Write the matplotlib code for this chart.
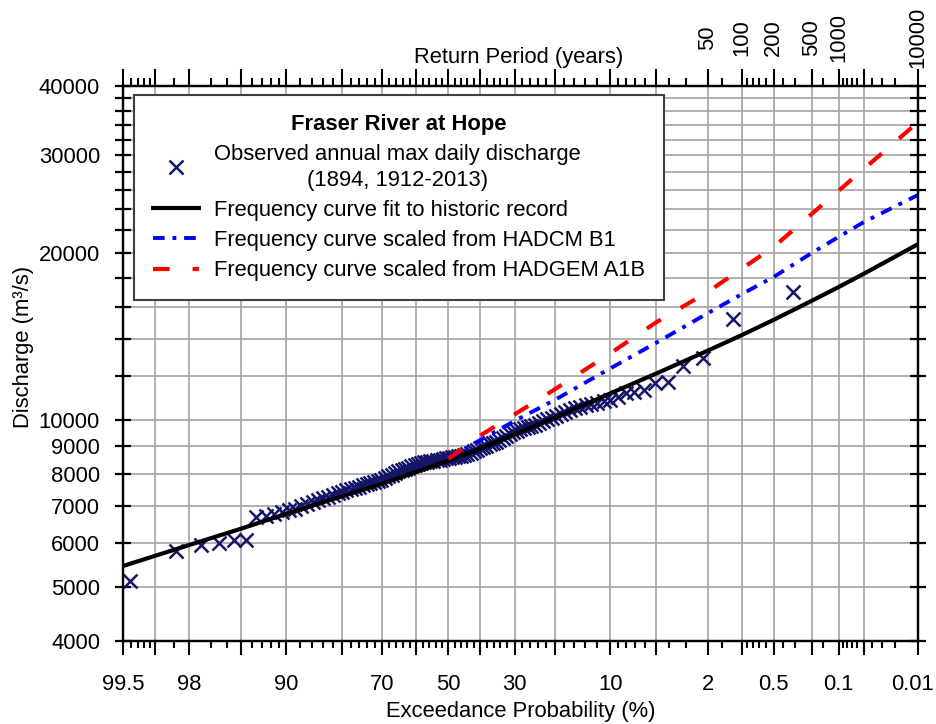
from statistics import NormalDist

import matplotlib
matplotlib.use("Agg")
import matplotlib.pyplot as plt
import numpy as np
from matplotlib.ticker import FixedLocator, FixedFormatter, NullFormatter
from matplotlib.transforms import ScaledTranslation

plt.rcParams['font.family'] = ['Liberation Sans', 'DejaVu Sans']
FS = 15.8

# observed annual max daily discharge: exceedance probability (%) and discharge (m3/s)
obs_p = [0.32, 1.21, 2.18, 3.15, 4.13, 5.10, 6.07, 7.04, 8.02, 8.99, 9.96,
         10.93, 11.91, 12.88, 13.85, 14.82, 15.79, 16.77, 17.74, 18.71, 19.68,
         20.66, 21.63, 22.60, 23.57, 24.55, 25.52, 26.49, 27.46, 28.44, 29.41,
         30.38, 31.35, 32.32, 33.30, 34.27, 35.24, 36.21, 37.19, 38.16, 39.13,
         40.10, 41.08, 42.05, 43.02, 43.99, 44.97, 45.94, 46.91, 47.88, 48.85,
         49.83, 50.80, 51.77, 52.74, 53.72, 54.69, 55.66, 56.63, 57.61, 58.58,
         59.55, 60.52, 61.50, 62.47, 63.44, 64.41, 65.38, 66.36, 67.33, 68.30,
         69.27, 70.25, 71.22, 72.19, 73.16, 74.14, 75.11, 76.08, 77.05, 78.03,
         79.00, 79.97, 80.94, 81.91, 82.89, 83.86, 84.83, 85.80, 86.78, 87.75,
         88.72, 89.69, 90.67, 91.64, 92.61, 93.58, 94.55, 95.53, 96.50, 97.47,
         98.44, 99.42]
obs_q = [17040, 15210, 12930, 12520, 11730, 11650, 11330, 11250, 11200, 11020, 10870,
         10810, 10740, 10680, 10640, 10580, 10500, 10430, 10350, 10270, 10190,
         10110, 10030, 9950, 9870, 9800, 9760, 9720, 9670, 9620, 9570,
         9520, 9440, 9360, 9280, 9200, 9150, 9100, 9050, 9000, 8950,
         8910, 8850, 8800, 8740, 8690, 8650, 8630, 8610, 8590, 8570,
         8550, 8530, 8510, 8490, 8470, 8450, 8440, 8420, 8400, 8380,
         8340, 8300, 8260, 8210, 8170, 8130, 8090, 8040, 7980, 7920,
         7860, 7800, 7770, 7740, 7710, 7670, 7630, 7590, 7550, 7510,
         7470, 7430, 7380, 7330, 7280, 7230, 7170, 7110, 7050, 6990,
         6930, 6880, 6830, 6780, 6730, 6690, 6080, 6070, 6000, 5950,
         5820, 5130]

# frequency curves
fit_p = [99.5, 98, 95, 90, 80, 70, 50, 40, 30, 20, 10, 5, 2, 1, 0.5, 0.2, 0.1,
         0.05, 0.01]
fit_q = [5460, 5955, 6370, 6780, 7290, 7680, 8450, 8880, 9430, 10100, 11170,
         12130, 13340, 14240, 15160, 16410, 17370, 18360, 20750]

b1_p = [50, 40, 30, 20, 10, 5, 2, 1, 0.5, 0.2, 0.1, 0.05, 0.01]
b1_q = [8510, 9210, 9965, 10870, 12390, 13780, 15580, 16880, 18110, 20010,
        21380, 22750, 25450]

a1b_p = [50, 40, 30, 20, 10, 5, 2, 1, 0.5, 0.2, 0.1, 0.05, 0.01]
a1b_q = [8520, 9383, 10240, 11360, 13190, 15000, 17020, 18760, 20510, 23530,
         25900, 28360, 34430]

# axis ticks
major_p = [99.5, 99, 98, 95, 90, 80, 70, 60, 50, 40, 30, 20, 10, 5, 2, 1,
           0.5, 0.2, 0.1, 0.05, 0.01]
bottom_labels = ['99.5', '', '98', '', '90', '', '70', '', '50', '', '30', '',
                 '10', '', '2', '', '0.5', '', '0.1', '', '0.01']
top_labels = ['', '', '', '', '', '', '', '', '', '', '', '', '', '', '50', '100',
              '200', '500', '1000', '', '10000']
minor_p = [99.4, 99.3, 99.2, 99.1, 98.5, 97, 96, 94, 93, 92, 91,
           88, 86, 84, 82, 78, 76, 74, 72, 68, 66, 64, 62, 58, 56, 54, 52,
           48, 46, 44, 42, 38, 36, 34, 32, 28, 26, 24, 22, 18, 16, 14, 12,
           9, 8, 7, 6, 4, 3, 1.5, 0.9, 0.8, 0.7, 0.6, 0.4, 0.3, 0.15,
           0.09, 0.08, 0.07, 0.06, 0.04, 0.03, 0.02]
q_ticks = [4000, 5000, 6000, 7000, 8000, 9000, 10000, 12000, 14000, 16000,
           18000, 20000, 22000, 24000, 26000, 28000, 30000, 32000, 34000,
           36000, 38000, 40000]
q_labels = ['4000', '5000', '6000', '7000', '8000', '9000', '10000', '', '', '',
            '', '20000', '', '', '', '', '30000', '', '', '', '', '40000']

_nd = NormalDist()
_inv = np.vectorize(_nd.inv_cdf, otypes=[float])
_cdf = np.vectorize(_nd.cdf, otypes=[float])


def p_to_z(p):
    # normal probability scale, increasing with p
    p = np.clip(np.asarray(p, float), 1e-7, 100 - 1e-7)
    return _inv(p / 100)


def z_to_p(z):
    return 100 * _cdf(np.asarray(z, float))


fig = plt.figure(figsize=(9.36, 7.24), dpi=100)
ax = fig.add_axes([123 / 936, 1 - 641 / 724, 795 / 936, 555 / 724])
ax.set_xscale('function', functions=(p_to_z, z_to_p))
ax.set_yscale('log')
ax.set_xlim(99.5, 0.01)
ax.set_ylim(4000, 40000)

ax.plot(obs_p, obs_q, ls='none', marker='x', ms=10, mew=1.8, color='#15156a',
        label='Observed annual max daily discharge\n(1894, 1912-2013)')
ax.plot(fit_p, fit_q, color='black', lw=3.0,
        label='Frequency curve fit to historic record')
ax.plot(b1_p, b1_q, color='#0000ff', lw=2.8, ls=(0, (3, 2, 1, 2)),
        label='Frequency curve scaled from HADCM B1')
ax.plot(a1b_p, a1b_q, color='#ff0000', lw=3.0, ls=(0, (4, 5.5)),
        label='Frequency curve scaled from HADGEM A1B')

ax.xaxis.set_major_locator(FixedLocator(major_p))
ax.xaxis.set_major_formatter(FixedFormatter(bottom_labels))
ax.xaxis.set_minor_locator(FixedLocator(minor_p))
ax.xaxis.set_minor_formatter(NullFormatter())
ax.yaxis.set_major_locator(FixedLocator(q_ticks))
ax.yaxis.set_major_formatter(FixedFormatter(q_labels))
ax.yaxis.set_minor_locator(FixedLocator([]))

ax.grid(True, which='major', color='#a3a3a3', lw=1.2)
ax.tick_params(axis='x', which='major', direction='out', length=10, width=1.5,
               labelsize=FS, pad=14)
ax.tick_params(axis='x', which='minor', direction='out', length=5, width=1.5)
ax.tick_params(axis='y', which='major', direction='inout', length=11, width=1.6,
               labelsize=FS, pad=11, right=True)
for s in ax.spines.values():
    s.set_linewidth(1.6)

# last bottom label sits a little left of its tick, as in the original
last = ax.xaxis.get_major_ticks()[-1].label1
last.set_transform(last.get_transform() + ScaledTranslation(-0.06, 0, fig.dpi_scale_trans))

ax.set_xlabel('Exceedance Probability (%)', fontsize=FS)
ax.xaxis.set_label_coords(0.5, -0.108)
ax.set_ylabel('Discharge (m³/s)', fontsize=FS)
ax.yaxis.set_label_coords(-0.112, 0.53)

# return period axis on top
ax2 = ax.twiny()
ax2.set_xscale('function', functions=(p_to_z, z_to_p))
ax2.set_xlim(ax.get_xlim())
ax2.xaxis.set_major_locator(FixedLocator(major_p))
ax2.xaxis.set_major_formatter(FixedFormatter(top_labels))
ax2.xaxis.set_minor_locator(FixedLocator(minor_p))
ax2.xaxis.set_minor_formatter(NullFormatter())
ax2.tick_params(axis='x', which='major', direction='out', length=12, width=1.5,
                labelsize=FS, pad=23, labelrotation=90)
ax2.tick_params(axis='x', which='minor', direction='out', length=6, width=1.5)
for t in ax2.xaxis.get_major_ticks():
    t.label2.set_verticalalignment('center')
for s in ax2.spines.values():
    s.set_linewidth(1.6)
ax.text(0.498, 1.052, 'Return Period (years)', transform=ax.transAxes,
        ha='center', va='center', fontsize=FS)

leg = ax.legend(loc='upper left', bbox_to_anchor=(0.0138, 0.984), borderaxespad=0,
                title='Fraser River at Hope',
                title_fontproperties={'weight': 'bold', 'size': FS},
                fontsize=FS, fancybox=False, framealpha=1, edgecolor='#404040',
                handlelength=2.1, handletextpad=0.7, labelspacing=0.42,
                borderpad=0.85)
leg.get_frame().set_linewidth(1.5)
leg.get_texts()[0].set_multialignment('center')
leg.get_texts()[0].set_linespacing(1.3)

fig.savefig('out.png', dpi=100)
